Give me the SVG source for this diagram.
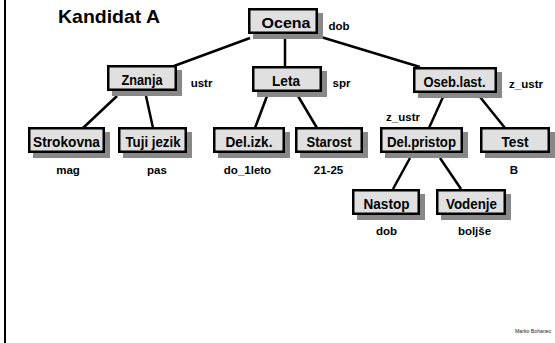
<svg xmlns="http://www.w3.org/2000/svg" width="555" height="343" viewBox="0 0 555 343">
<style>
.box{fill:#e0e0e0;stroke:#000;stroke-width:2.5}
.sh{fill:#888}
.lbl{font-family:"Liberation Sans",Arial,sans-serif;font-weight:bold;font-size:15px;fill:#000;text-anchor:middle}
.val{font-family:"Liberation Sans",Arial,sans-serif;font-weight:bold;font-size:11.5px;fill:#000;text-anchor:middle}
.edge{stroke:#000;stroke-width:2.5;fill:none}
</style>
<rect width="555" height="343" fill="#fff"/>
<line x1="5" y1="0" x2="5" y2="343" stroke="#000" stroke-width="2"/>
<text x="58" y="23" font-family="Liberation Sans,Arial,sans-serif" font-weight="bold" font-size="19" textLength="102" lengthAdjust="spacingAndGlyphs">Kandidat A</text>
<g id="connectors">
<line class="edge" x1="250" y1="38" x2="174" y2="66"/>
<line class="edge" x1="285" y1="38" x2="285" y2="66"/>
<line class="edge" x1="321" y1="37" x2="420" y2="67"/>
<line class="edge" x1="117" y1="96" x2="83" y2="128"/>
<line class="edge" x1="146" y1="96" x2="153" y2="128"/>
<line class="edge" x1="267" y1="96" x2="255" y2="128"/>
<line class="edge" x1="298" y1="96" x2="317" y2="128"/>
<line class="edge" x1="443" y1="97" x2="429" y2="128"/>
<line class="edge" x1="480" y1="97" x2="505" y2="128"/>
<line class="edge" x1="410" y1="158" x2="393" y2="189"/>
<line class="edge" x1="440" y1="158" x2="461" y2="189"/>
</g>
<g id="ocena"><rect class="sh" x="253" y="13" width="70" height="26"/><rect class="box" x="249.25" y="9.25" width="67.5" height="23.5"/><text class="lbl" x="286" y="27.5" textLength="49" lengthAdjust="spacingAndGlyphs">Ocena</text><text class="val" x="339" y="30">dob</text></g>
<g id="znanja"><rect class="sh" x="112" y="70" width="70" height="26"/><rect class="box" x="108.25" y="66.25" width="67.5" height="23.5"/><text class="lbl" x="142" y="84.5" textLength="41" lengthAdjust="spacingAndGlyphs">Znanja</text><text class="val" x="201.5" y="87">ustr</text></g>
<g id="leta"><rect class="sh" x="257" y="71" width="70" height="26"/><rect class="box" x="253.25" y="67.25" width="67.5" height="23.5"/><text class="lbl" x="286" y="85.5" textLength="28" lengthAdjust="spacingAndGlyphs">Leta</text><text class="val" x="341.5" y="87">spr</text></g>
<g id="oseb"><rect class="sh" x="418" y="72" width="84" height="26"/><rect class="box" x="414.25" y="68.25" width="81.5" height="23.5"/><text class="lbl" x="454.5" y="86.5" textLength="62" lengthAdjust="spacingAndGlyphs">Oseb.last.</text><text class="val" x="526" y="88">z_ustr</text></g>
<g id="strokovna"><rect class="sh" x="33" y="132" width="77" height="26"/><rect class="box" x="29.25" y="128.25" width="74.5" height="23.5"/><text class="lbl" x="66.5" y="147" textLength="67" lengthAdjust="spacingAndGlyphs">Strokovna</text><text class="val" x="68" y="174">mag</text></g>
<g id="tuji"><rect class="sh" x="123" y="132" width="69" height="26"/><rect class="box" x="119.25" y="128.25" width="66.5" height="23.5"/><text class="lbl" x="153" y="147" textLength="55" lengthAdjust="spacingAndGlyphs">Tuji jezik</text><text class="val" x="157" y="174">pas</text></g>
<g id="delizk"><rect class="sh" x="218" y="132" width="72" height="26"/><rect class="box" x="214.25" y="128.25" width="69.5" height="23.5"/><text class="lbl" x="249" y="147" textLength="47" lengthAdjust="spacingAndGlyphs">Del.izk.</text><text class="val" x="247.5" y="174">do_1leto</text></g>
<g id="starost"><rect class="sh" x="300" y="132" width="68" height="26"/><rect class="box" x="296.25" y="128.25" width="65.5" height="23.5"/><text class="lbl" x="329" y="147" textLength="45" lengthAdjust="spacingAndGlyphs">Starost</text><text class="val" x="328.5" y="174">21-25</text></g>
<g id="delpristop"><rect class="sh" x="385" y="132" width="83" height="26"/><rect class="box" x="381.25" y="128.25" width="80.5" height="23.5"/><text class="lbl" x="421.5" y="147" textLength="69" lengthAdjust="spacingAndGlyphs">Del.pristop</text><text class="val" x="403" y="121">z_ustr</text></g>
<g id="test"><rect class="sh" x="485" y="132" width="70" height="26"/><rect class="box" x="481.25" y="128.25" width="67.5" height="23.5"/><text class="lbl" x="515" y="147" textLength="27" lengthAdjust="spacingAndGlyphs">Test</text><text class="val" x="514" y="174">B</text></g>
<g id="nastop"><rect class="sh" x="357" y="194" width="68" height="26"/><rect class="box" x="353.25" y="190.25" width="65.5" height="23.5"/><text class="lbl" x="386.5" y="208.5" textLength="46" lengthAdjust="spacingAndGlyphs">Nastop</text><text class="val" x="386.5" y="235">dob</text></g>
<g id="vodenje"><rect class="sh" x="441" y="194" width="70" height="26"/><rect class="box" x="437.25" y="190.25" width="67.5" height="23.5"/><text class="lbl" x="471.5" y="208.5" textLength="51" lengthAdjust="spacingAndGlyphs">Vodenje</text><text class="val" x="474.5" y="235">boljše</text></g>
<text x="515" y="333" font-family="Liberation Sans,Arial,sans-serif" font-size="5.2" fill="#222">Marko Bohanec</text>
</svg>
